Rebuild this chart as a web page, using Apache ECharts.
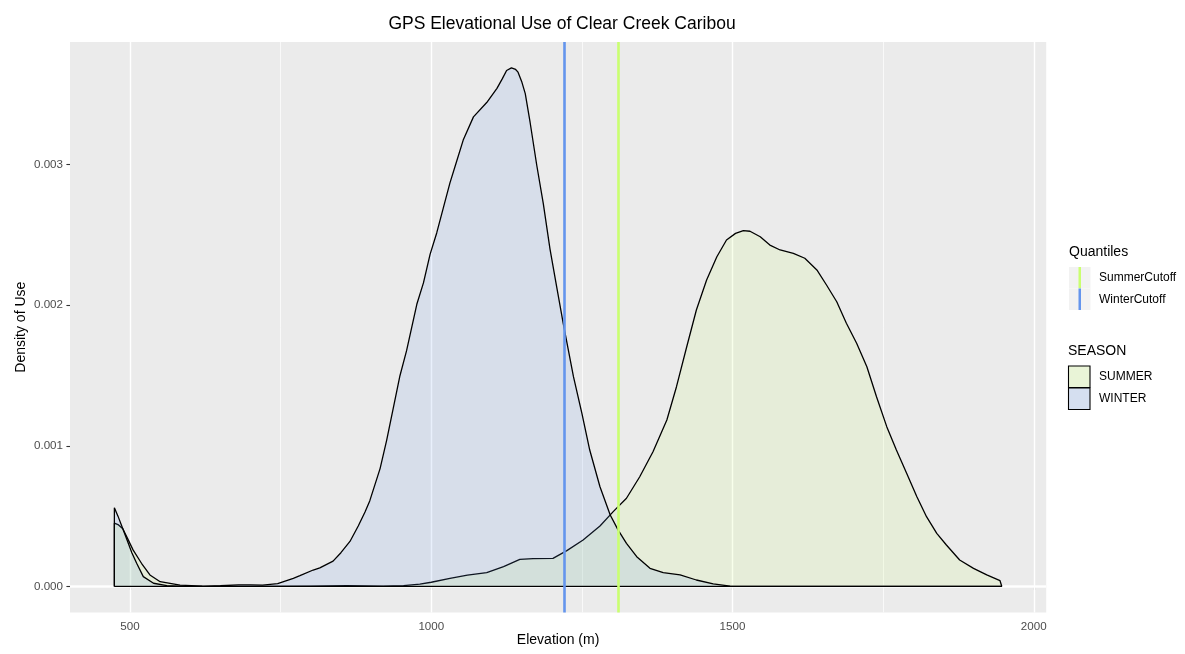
<!DOCTYPE html>
<html>
<head>
<meta charset="utf-8">
<script src="https://cdn.jsdelivr.net/npm/echarts@6/dist/echarts.min.js"></script>
<style>html,body{margin:0;padding:0;background:#fff;}#c{width:1185px;height:654px;}</style>
</head>
<body>
<div id="c"></div>
<script>
// ---- data ----
const elevTicks = [500, 1000, 1500, 2000];
const elevMinor = [750, 1250, 1750];
const densTicks = [0, 0.001, 0.002, 0.003];
const densMinor = [0.0005, 0.0015, 0.0025, 0.0035];

const winterElev = [474,480,488,496,503,511,522,539,561,590,620,650,680,700,720,745,771,782,804,815,837,850,865,879,890,898,915,926,937,948,959,976,987,998,1009,1020,1031,1042,1053,1070,1092,1109,1118,1125,1133,1140,1144,1150,1156,1164,1175,1186,1197,1208,1219,1236,1250,1263,1280,1297,1310,1324,1341,1363,1385,1413,1440,1468,1496,1520,1947];
const winterDens = [0.00056,0.00050,0.00041,0.00032,0.00024,0.000165,0.00007,0.000023,0.000006,0.000001,0,0.000005,0.000012,0.000012,0.00001,0.00002,0.000058,0.000077,0.000117,0.000132,0.00018,0.00024,0.00032,0.000432,0.00053,0.00061,0.000838,0.001041,0.001269,0.001498,0.001676,0.002006,0.002158,0.002361,0.002513,0.002691,0.002869,0.003021,0.003173,0.003338,0.00344,0.003541,0.00361,0.003668,0.003686,0.003675,0.003656,0.00359,0.003503,0.0033,0.002996,0.00272,0.0024,0.002133,0.001871,0.001491,0.001231,0.00097,0.000709,0.000508,0.000402,0.000307,0.000212,0.000129,0.000098,0.000082,0.000046,0.000018,0.000002,0,0];

const summerElev = [474,480,488,496,505,519,533,550,583,620,700,800,860,920,954,981,1000,1031,1060,1092,1120,1147,1169,1202,1225,1252,1280,1302,1324,1346,1368,1391,1407,1424,1440,1457,1474,1490,1505,1518,1529,1546,1562,1579,1601,1620,1640,1656,1673,1689,1706,1723,1739,1756,1772,1789,1806,1822,1839,1855,1877,1900,1922,1944,1947];
const summerDens = [0.00045,0.00044,0.00041,0.00034,0.00026,0.000165,0.000082,0.000034,0.000009,0.000002,0,0.000003,0.000005,0.000003,0.000006,0.000016,0.00003,0.000058,0.00008,0.000098,0.000141,0.000193,0.000198,0.0002,0.000255,0.00033,0.00043,0.000532,0.000627,0.00078,0.000958,0.001183,0.00142,0.001704,0.001965,0.002178,0.002344,0.002463,0.00251,0.00253,0.002525,0.002486,0.002427,0.002392,0.002368,0.002333,0.00225,0.002143,0.002024,0.001871,0.001729,0.001562,0.001349,0.001136,0.00097,0.000805,0.000638,0.000496,0.000378,0.000295,0.000188,0.000129,0.000082,0.000041,0.00003];

const winterCutoff = 1220;
const summerCutoff = 1311;

const seasonNames = ['SUMMER', 'WINTER'];
const quantileNames = ['SummerCutoff', 'WinterCutoff'];

// ---- styling ----
const summerColor = '#CAFF70';
const winterColor = '#6495ED';
const summerFill = 'rgba(202,255,112,0.2)';
const winterFill = 'rgba(100,149,237,0.2)';
const FONT = 'Liberation Sans, Arial, sans-serif';

// ggplot-like expansion (5%)
const allElev = winterElev.concat(summerElev);
const xLo = Math.min(...allElev), xHi = Math.max(...allElev);
const xPad = 0.05 * (xHi - xLo);
const yHi = Math.max(...winterDens, ...summerDens);
const yPad = 0.05 * yHi;

function closedPoly(xs, ys) {
  const pts = xs.map((x, i) => [x, ys[i]]);
  pts.unshift([xs[0], 0]);
  pts.push([xs[xs.length - 1], 0]);
  return pts;
}

const chart = echarts.init(document.getElementById('c'), null, {renderer: 'canvas'});

const gridMarks = [];
elevTicks.forEach(v => gridMarks.push({xAxis: v, lineStyle: {color: '#ffffff', width: 1.4, type: 'solid'}}));
elevMinor.forEach(v => gridMarks.push({xAxis: v, lineStyle: {color: '#ffffff', width: 0.7, type: 'solid'}}));
densTicks.forEach(v => gridMarks.push({yAxis: v, lineStyle: {color: '#ffffff', width: 1.4, type: 'solid'}}));
densMinor.forEach(v => gridMarks.push({yAxis: v, lineStyle: {color: '#ffffff', width: 0.7, type: 'solid'}}));

// legend drawn with graphic primitives (text kept as real text)
const LX = 1069, LT = 1099;
const legend = [
  {type: 'text', left: LX, top: 245, style: {text: 'Quantiles', font: '14px ' + FONT, fill: '#000'}},
  {type: 'rect', shape: {x: LX, y: 267, width: 21.5, height: 21.5}, style: {fill: '#F2F2F2'}},
  {type: 'line', shape: {x1: LX + 10.75, y1: 267, x2: LX + 10.75, y2: 288.5}, style: {stroke: summerColor, lineWidth: 2.5}},
  {type: 'rect', shape: {x: LX, y: 288.5, width: 21.5, height: 21.5}, style: {fill: '#F2F2F2'}},
  {type: 'line', shape: {x1: LX + 10.75, y1: 288.5, x2: LX + 10.75, y2: 310}, style: {stroke: winterColor, lineWidth: 2.5}},
  {type: 'text', x: LT, y: 278, style: {text: quantileNames[0], font: '12px ' + FONT, fill: '#000', textVerticalAlign: 'middle'}},
  {type: 'text', x: LT, y: 300, style: {text: quantileNames[1], font: '12px ' + FONT, fill: '#000', textVerticalAlign: 'middle'}},
  {type: 'text', left: LX - 1, top: 344, style: {text: 'SEASON', font: '14px ' + FONT, fill: '#000'}},
  {type: 'rect', shape: {x: LX - 0.5, y: 366, width: 21.5, height: 21.5}, style: {fill: '#F2F2F2'}},
  {type: 'rect', shape: {x: LX - 0.5, y: 366, width: 21.5, height: 21.5}, style: {fill: summerFill, stroke: '#000', lineWidth: 1.1}},
  {type: 'rect', shape: {x: LX - 0.5, y: 388, width: 21.5, height: 21.5}, style: {fill: '#F2F2F2'}},
  {type: 'rect', shape: {x: LX - 0.5, y: 388, width: 21.5, height: 21.5}, style: {fill: winterFill, stroke: '#000', lineWidth: 1.1}},
  {type: 'text', x: LT, y: 377, style: {text: seasonNames[0], font: '12px ' + FONT, fill: '#000', textVerticalAlign: 'middle'}},
  {type: 'text', x: LT, y: 399, style: {text: seasonNames[1], font: '12px ' + FONT, fill: '#000', textVerticalAlign: 'middle'}}
];

const option = {
  animation: false,
  backgroundColor: '#ffffff',
  textStyle: {fontFamily: FONT},
  title: {
    text: 'GPS Elevational Use of Clear Creek Caribou',
    left: 557, top: 10, textAlign: 'center',
    textStyle: {fontFamily: FONT, fontSize: 17.5, fontWeight: 'normal', color: '#000'}
  },
  grid: {left: 70, right: 138.8, top: 42, bottom: 41.6, show: true, backgroundColor: '#EBEBEB', borderWidth: 0},
  xAxis: {
    type: 'value', min: xLo - xPad, max: xHi + xPad,
    name: 'Elevation (m)', nameLocation: 'middle', nameGap: 21, nameMoveOverlap: false,
    nameTextStyle: {fontFamily: FONT, fontSize: 14, color: '#000'},
    axisLine: {show: false},
    splitLine: {show: false},
    axisTick: {show: true, customValues: elevTicks, length: 3.6, lineStyle: {color: '#333333', width: 1.1}},
    axisLabel: {customValues: elevTicks, color: '#4D4D4D', fontSize: 11.6, margin: 8, fontFamily: FONT,
      formatter: v => String(Math.round(v))}
  },
  yAxis: {
    type: 'value', min: -yPad, max: yHi + yPad,
    name: 'Density of Use', nameLocation: 'middle', nameGap: 42, nameRotate: 90, nameMoveOverlap: false,
    nameTextStyle: {fontFamily: FONT, fontSize: 14, color: '#000'},
    axisLine: {show: false},
    splitLine: {show: false},
    axisTick: {show: true, customValues: densTicks, length: 3.6, lineStyle: {color: '#333333', width: 1.1}},
    axisLabel: {customValues: densTicks, color: '#4D4D4D', fontSize: 11.6, margin: 7, fontFamily: FONT,
      formatter: v => Number(v).toFixed(3)}
  },
  series: [
    {
      type: 'line', name: 'grid', data: [], z: 1, silent: true,
      markLine: {silent: true, z: 1, symbol: 'none', label: {show: false}, animation: false, data: gridMarks}
    },
    {
      type: 'line', name: seasonNames[0], data: closedPoly(summerElev, summerDens), z: 2,
      showSymbol: false, smooth: false,
      lineStyle: {color: '#000', width: 1.3},
      areaStyle: {color: summerFill, origin: 0},
      itemStyle: {color: summerColor}
    },
    {
      type: 'line', name: seasonNames[1], data: closedPoly(winterElev, winterDens), z: 3,
      showSymbol: false, smooth: false,
      lineStyle: {color: '#000', width: 1.3},
      areaStyle: {color: winterFill, origin: 0},
      itemStyle: {color: winterColor}
    },
    {
      type: 'line', name: 'baseline', data: [[xLo, 0], [xHi, 0]], z: 4,
      showSymbol: false, lineStyle: {color: '#000', width: 1.3}, silent: true
    },
    {
      type: 'line', name: 'cutoffs', data: [], z: 10, silent: true,
      markLine: {silent: true, z: 10, symbol: 'none', label: {show: false}, animation: false,
        data: [
          {xAxis: summerCutoff, lineStyle: {color: summerColor, width: 2.6, type: 'solid'}},
          {xAxis: winterCutoff, lineStyle: {color: winterColor, width: 2.6, type: 'solid'}}
        ]}
    }
  ],
  graphic: legend
};
chart.setOption(option);
</script>
</body>
</html>
